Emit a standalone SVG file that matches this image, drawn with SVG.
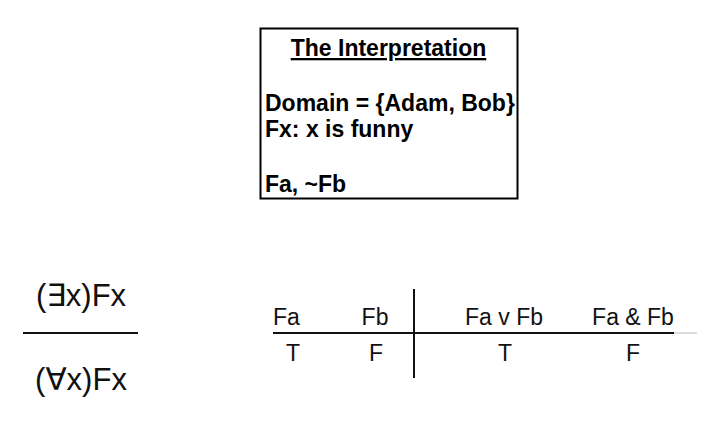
<svg xmlns="http://www.w3.org/2000/svg" width="710" height="421" viewBox="0 0 710 421">
<style>
.b{font-family:"Liberation Sans",Arial,sans-serif;font-weight:bold;font-size:23px;fill:#000}
.t{font-family:"Liberation Sans",Arial,sans-serif;font-size:23px;fill:#111}
.big{font-family:"Liberation Sans","DejaVu Sans",sans-serif;font-size:31px;fill:#111}
.ln{stroke:#111;stroke-width:2}
</style>
<rect width="710" height="421" fill="#fff"/>
<g id="interpretation">
<rect x="260.5" y="28.5" width="257" height="170" fill="#fff" stroke="#000" stroke-width="2"/>
<text class="b" x="388.5" y="56" text-anchor="middle" text-decoration="underline" font-size="22.7">The Interpretation</text>
<text class="b" x="265" y="111">Domain = {Adam, Bob}</text>
<text class="b" x="265" y="137">Fx: x is funny</text>
<text class="b" x="265" y="192">Fa, ~Fb</text>
</g>
<g id="argument">
<text class="big" x="81" y="306" text-anchor="middle">(∃x)Fx</text>
<line class="ln" x1="23" y1="333" x2="138" y2="333"/>
<text class="big" x="81" y="390" text-anchor="middle">(∀x)Fx</text>
</g>
<g id="table">
<line class="ln" x1="273" y1="333" x2="674" y2="333"/>
<line x1="674" y1="333" x2="697" y2="333" stroke="#bbb" stroke-width="1"/>
<line class="ln" x1="414" y1="289" x2="414" y2="378"/>
<text class="t" x="273" y="325">Fa</text>
<text class="t" x="375" y="325" text-anchor="middle">Fb</text>
<text class="t" x="504" y="325" text-anchor="middle">Fa v Fb</text>
<text class="t" x="633" y="325" text-anchor="middle">Fa &amp; Fb</text>
<text class="t" x="293" y="361" text-anchor="middle">T</text>
<text class="t" x="376" y="361" text-anchor="middle">F</text>
<text class="t" x="505" y="361" text-anchor="middle">T</text>
<text class="t" x="633" y="361" text-anchor="middle">F</text>
</g>
</svg>
